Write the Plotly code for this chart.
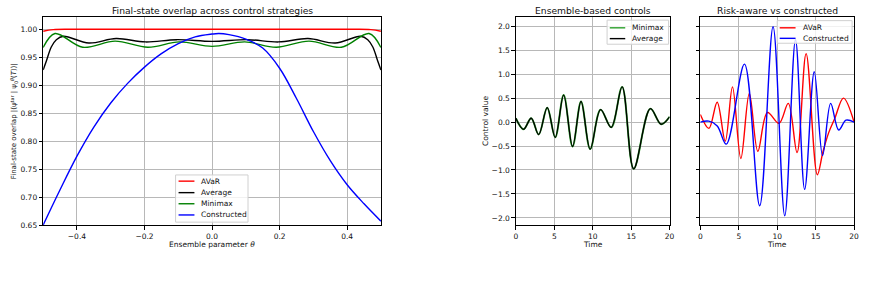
import plotly.graph_objects as go

# ---------------- data ----------------
# Left panel: final-state overlap vs ensemble parameter theta
theta_avar = [-0.5, -0.47, -0.4, -0.2, 0.0, 0.2, 0.4, 0.47, 0.5]
overlap_avar = [0.996, 0.999, 0.9995, 0.9995, 0.9995, 0.9995, 0.9995, 0.999, 0.996]

theta_avg = [-0.5, -0.49, -0.476, -0.461, -0.44, -0.365, -0.284, -0.197, -0.105, 0.0,
             0.105, 0.197, 0.284, 0.365, 0.44, 0.461, 0.476, 0.49, 0.5]
overlap_avg = [0.927, 0.944, 0.968, 0.981, 0.987, 0.975, 0.983, 0.977, 0.981, 0.978,
               0.981, 0.977, 0.983, 0.975, 0.987, 0.981, 0.968, 0.944, 0.927]

theta_minimax = [-0.5, -0.465, -0.383, -0.287, -0.19, -0.097, 0.0,
                 0.097, 0.19, 0.287, 0.383, 0.465, 0.5]
overlap_minimax = [0.967, 0.992, 0.9675, 0.9785, 0.9675, 0.977, 0.969,
                   0.977, 0.9675, 0.9785, 0.9675, 0.992, 0.967]

theta_con = [-0.5, -0.45, -0.4, -0.35, -0.3, -0.25, -0.2, -0.15, -0.1, -0.05, 0.0, 0.02,
             0.05, 0.1, 0.15, 0.2, 0.25, 0.3, 0.35, 0.4, 0.45, 0.5]
overlap_con = [0.650, 0.713, 0.773, 0.825, 0.868, 0.903, 0.932, 0.956, 0.974, 0.986,
               0.991, 0.992, 0.990, 0.982, 0.966, 0.930, 0.876, 0.817, 0.765, 0.722,
               0.688, 0.657]

# Middle panel: ensemble-based controls vs time
t_ens = [0, 1.0, 2.0, 2.97, 4.08, 5.12, 6.22, 7.38, 8.48, 9.67, 11.02, 12.41,
         13.83, 15.33, 17.5, 18.9, 20]
u_minimax = [0.08, -0.15, 0.08, -0.26, 0.30, -0.32, 0.565, -0.51, 0.43, -0.565,
             0.26, -0.11, 0.735, -0.975, 0.28, -0.045, 0.11]
u_average = [0.08, -0.15, 0.08, -0.26, 0.30, -0.32, 0.565, -0.51, 0.43, -0.565,
             0.26, -0.11, 0.735, -0.975, 0.28, -0.045, 0.11]

# Right panel: risk-aware vs constructed controls
t_avar = [0, 1.12, 2.19, 3.24, 4.18, 5.27, 6.37, 7.48, 8.73, 10.24, 11.44, 12.58,
          13.76, 15.22, 15.95, 16.7, 17.5, 18.62, 20]
u_avar = [0.16, -0.13, 0.415, -0.40, 0.735, -0.76, 0.60, -0.61, 0.20, -0.025, 0.39,
          -0.635, 1.43, -1.10, -0.62, -0.22, 0.08, 0.50, 0.0]

t_con = [0, 1.1, 2.2, 3.38, 5.74, 7.72, 9.46, 10.98, 12.38, 13.57, 14.82, 15.9,
         16.95, 18.0, 18.95, 20]
u_con = [0.0, 0.02, -0.08, -0.46, 1.21, -1.745, 1.99, -1.955, 1.72, -1.405, 1.05,
         -0.70, 0.39, -0.165, 0.04, 0.0]

# Tick labels
theta_ticks = [-0.4, -0.2, 0.0, 0.2, 0.4]
theta_ticktext = ["\u22120.4", "\u22120.2", "0.0", "0.2", "0.4"]
overlap_ticks = [0.65, 0.70, 0.75, 0.80, 0.85, 0.90, 0.95, 1.00]
overlap_ticktext = ["0.65", "0.70", "0.75", "0.80", "0.85", "0.90", "0.95", "1.00"]
time_ticks = [0, 5, 10, 15, 20]
control_ticks = [-2.0, -1.5, -1.0, -0.5, 0.0, 0.5, 1.0, 1.5, 2.0]
control_ticktext = ["\u22122.0", "\u22121.5", "\u22121.0", "\u22120.5", "0.0",
                    "0.5", "1.0", "1.5", "2.0"]

# ---------------- figure ----------------
W, H = 870, 292
FONT = "DejaVu Sans"
TXT = "#111111"


def px_x(p):
    return p / W


def px_y(p):
    return 1 - p / H


fig = go.Figure()
LW = 1.4
spl = dict(shape="spline", smoothing=1.0)

series = [
    (theta_avar, overlap_avar, "AVaR", "#ff0000", LW, "x", "y"),
    (theta_avg, overlap_avg, "Average", "#000000", LW, "x", "y"),
    (theta_minimax, overlap_minimax, "Minimax", "#008000", LW, "x", "y"),
    (theta_con, overlap_con, "Constructed", "#0000ff", LW, "x", "y"),
    (t_ens, u_minimax, "Minimax", "#2ca02c", 1.9, "x2", "y2"),
    (t_ens, u_average, "Average", "#000000", 1.3, "x2", "y2"),
    (t_avar, u_avar, "AVaR", "#ff0000", LW, "x3", "y3"),
    (t_con, u_con, "Constructed", "#0000ff", LW, "x3", "y3"),
]
for xs, ys, name, col, w, xa, ya in series:
    fig.add_trace(go.Scatter(x=xs, y=ys, mode="lines", name=name, showlegend=False,
                             line=dict(color=col, width=w, **spl), xaxis=xa, yaxis=ya))

axis_common = dict(showline=True, mirror=True, linecolor="#000000", linewidth=1,
                   ticks="outside", ticklen=3.5, tickwidth=1, tickcolor="#000000",
                   showgrid=True, gridcolor="#b8b8b8", gridwidth=1, zeroline=False,
                   tickfont=dict(family=FONT, size=7.5, color=TXT))

ydom = [px_y(229), px_y(17)]
fig.update_layout(
    width=W, height=H, margin=dict(l=0, r=0, t=0, b=0),
    paper_bgcolor="white", plot_bgcolor="white", showlegend=False,
    font=dict(family=FONT, size=7.5, color=TXT),
    xaxis=dict(domain=[px_x(41.5), px_x(382)], range=[-0.5, 0.5], anchor="y",
               tickvals=theta_ticks, ticktext=theta_ticktext, **axis_common),
    yaxis=dict(domain=ydom, range=[0.65, 1.022], anchor="x",
               tickvals=overlap_ticks, ticktext=overlap_ticktext, **axis_common),
    xaxis2=dict(domain=[px_x(518), px_x(673)], range=[0, 20], anchor="y2",
                tickvals=time_ticks, **axis_common),
    yaxis2=dict(domain=ydom, range=[-2.15, 2.2], anchor="x2",
                tickvals=control_ticks, ticktext=control_ticktext, **axis_common),
    xaxis3=dict(domain=[px_x(704), px_x(859)], range=[0, 20], anchor="y3",
                tickvals=time_ticks, **axis_common),
    yaxis3=dict(domain=ydom, range=[-2.15, 2.2], anchor="x3", matches="y2",
                tickvals=control_ticks, showticklabels=False, **axis_common),
)

ann = []
shapes = []
title_font = dict(family=FONT, size=9.2, color=TXT)
label_font = dict(family=FONT, size=7.5, color=TXT)
for text, cx in [("Final-state overlap across control strategies", 212),
                 ("Ensemble-based controls", 595.5),
                 ("Risk-aware vs constructed", 781.5)]:
    ann.append(dict(text=text, x=px_x(cx), y=px_y(10.5), xref="paper", yref="paper",
                    xanchor="center", yanchor="middle", showarrow=False, font=title_font))
for text, cx in [("Ensemble parameter <i>θ</i>", 212), ("Time", 595.5), ("Time", 781.5)]:
    ann.append(dict(text=text, x=px_x(cx), y=px_y(249), xref="paper", yref="paper",
                    xanchor="center", yanchor="middle", showarrow=False, font=label_font))
ann.append(dict(text="Final-state overlap |⟨ψ<sup>tar</sup> | ψ<sub>0</sub><sup><i>θ</i></sup>(<i>T</i>)⟩|",
                x=px_x(11.5), y=px_y(123), xref="paper", yref="paper", textangle=-90,
                xanchor="center", yanchor="middle", showarrow=False,
                font=dict(family=FONT, size=7, color=TXT)))
ann.append(dict(text="Control value", x=px_x(488), y=px_y(123), xref="paper", yref="paper",
                textangle=-90, xanchor="center", yanchor="middle", showarrow=False,
                font=label_font))

# legends (matplotlib-style boxes)
legends = [
    # box (x0, y0, x1, y1), swatch x0, x1, text x, entries [(label, colour, y)]
    ((175, 178, 248, 226), 178, 194, 199,
     [("AVaR", "#ff0000", 184.3), ("Average", "#000000", 196),
      ("Minimax", "#008000", 207.3), ("Constructed", "#0000ff", 218.7)]),
    ((610, 20.5, 672, 45), 612.7, 628.3, 633,
     [("Minimax", "#2ca02c", 28.3), ("Average", "#000000", 39.3)]),
    ((781.5, 21, 857, 44), 784, 800, 805.5,
     [("AVaR", "#ff0000", 28.3), ("Constructed", "#0000ff", 39)]),
]
for (bx0, by0, bx1, by1), sx0, sx1, tx, entries in legends:
    shapes.append(dict(type="rect", xref="paper", yref="paper", layer="above",
                       x0=px_x(bx0), x1=px_x(bx1), y0=px_y(by1), y1=px_y(by0),
                       fillcolor="rgba(255,255,255,0.8)",
                       line=dict(color="#d0d0d0", width=1)))
    for label, col, ly in entries:
        shapes.append(dict(type="line", xref="paper", yref="paper", layer="above",
                           x0=px_x(sx0), x1=px_x(sx1), y0=px_y(ly), y1=px_y(ly),
                           line=dict(color=col, width=1.4)))
        ann.append(dict(text=label, x=px_x(tx), y=px_y(ly), xref="paper", yref="paper",
                        xanchor="left", yanchor="middle", showarrow=False, font=label_font))

fig.update_layout(annotations=ann, shapes=shapes)

fig.write_html("out.html")
